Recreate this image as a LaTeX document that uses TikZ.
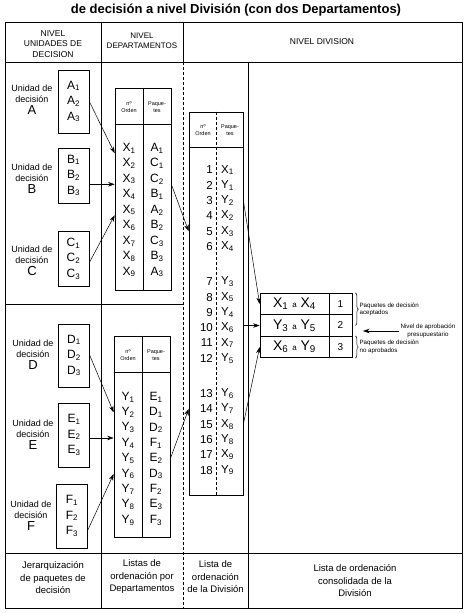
\documentclass[tikz,border=0pt]{standalone}
\usepackage{fontspec}
\setmainfont{Liberation Sans}
\usetikzlibrary{arrows.meta, decorations.pathreplacing}

\begin{document}
\begin{tikzpicture}[
  x=1pt, y=-1pt,
  frame/.style={line width=0.8pt},
  ubox/.style={draw, line width=0.7pt, minimum width=31pt, align=center, inner sep=1pt, font=\fontsize{12}{15.5}\selectfont},
  ulabel/.style={align=center, font=\fontsize{9}{11}\selectfont},
  tbl/.style={draw, line width=0.7pt, inner sep=0pt},
  thead/.style={align=center, font=\fontsize{5.5}{6.5}\selectfont},
  entry/.style={inner sep=0pt, font=\fontsize{12}{12}\selectfont},
  hdr/.style={align=center, font=\fontsize{8.5}{10.5}\selectfont},
  foot/.style={align=center, font=\fontsize{9.5}{12.5}\selectfont},
  res/.style={draw, line width=0.7pt, minimum height=21.5pt, inner sep=0pt, font=\fontsize{14}{14}\selectfont},
  note/.style={align=left, font=\fontsize{6.2}{7.5}\selectfont, inner sep=1pt},
  brace/.style={decorate, decoration={brace, amplitude=3pt}, line width=0.5pt},
  arrow/.style={-{Stealth[length=6.5pt, width=4.5pt]}, line width=0.5pt}
]
\useasboundingbox (0,0) rectangle (465,613);

% Title
\node[font=\bfseries\fontsize{13}{15}\selectfont] (title) at (236,10) {de decisión a nivel División (con dos Departamentos)};

% Frame
\draw[frame] (5,22) rectangle (462,608);
\draw[frame] (5,62) -- (462,62);
\draw[frame] (5,553) -- (462,553);
\draw[frame] (5,304) -- (183,304);
\draw[frame] (101,22) -- (101,608);
\draw[frame] (183,22) -- (183,62);
\draw[frame, densely dashed] (183,62) -- (183,608);
\draw[frame] (248,62) -- (248,608);

% Headers
\node[hdr] (h1) at (53,44) {NIVEL\\UNIDADES DE\\DECISION};
\node[hdr, font=\fontsize{8}{10}\selectfont] (h2) at (142,41) {NIVEL\\DEPARTAMENTOS};
\node[hdr] (h3) at (322,42) {NIVEL DIVISION};

% Decision units
\node[ulabel] (la) at (32,100) {Unidad de\\decisión\\[1pt]\fontsize{13}{13}\selectfont A};
\node[ulabel] (lb) at (32,179) {Unidad de\\decisión\\[1pt]\fontsize{13}{13}\selectfont B};
\node[ulabel] (lc) at (32,261) {Unidad de\\decisión\\[1pt]\fontsize{13}{13}\selectfont C};
\node[ulabel] (ld) at (33,355) {Unidad de\\decisión\\[1pt]\fontsize{13}{13}\selectfont D};
\node[ulabel] (le) at (33,435) {Unidad de\\decisión\\[1pt]\fontsize{13}{13}\selectfont E};
\node[ulabel] (lf) at (31,516) {Unidad de\\decisión\\[1pt]\fontsize{13}{13}\selectfont F};

\node[ubox, minimum height=63pt] (ua) at (73.5,101.5) {A\textsubscript{1}\\A\textsubscript{2}\\A\textsubscript{3}};
\node[ubox, minimum height=55pt] (ub) at (73.5,175.5) {B\textsubscript{1}\\B\textsubscript{2}\\B\textsubscript{3}};
\node[ubox, minimum height=55pt] (uc) at (73.5,258.5) {C\textsubscript{1}\\C\textsubscript{2}\\C\textsubscript{3}};
\node[ubox, minimum height=63pt] (ud) at (74,355.5) {D\textsubscript{1}\\D\textsubscript{2}\\D\textsubscript{3}};
\node[ubox, minimum height=64pt] (ue) at (74,435) {E\textsubscript{1}\\E\textsubscript{2}\\E\textsubscript{3}};
\node[ubox, minimum height=64pt] (uf) at (72,516) {F\textsubscript{1}\\F\textsubscript{2}\\F\textsubscript{3}};

% Department lists
\node[tbl, minimum width=56pt, minimum height=202pt] (dsup) at (143,189) {};
\draw[line width=0.7pt] ([yshift=-37pt]dsup.north west) -- ([yshift=-37pt]dsup.north east);
\draw[line width=0.7pt] (dsup.north) -- (dsup.south);
\node[thead] (dsupo) at (129,107) {nº\\Orden};
\node[thead] (dsupp) at (157,107) {Paque-\\tes};
\foreach \p/\s [count=\i] in {A/1,C/1,C/2,B/1,A/2,B/2,C/3,B/3,A/3} {
  \node[entry] (xo\i) at (129,{148+15.5*(\i-1)}) {X\textsubscript{\i}};
  \node[entry] (xp\i) at (157,{148+15.5*(\i-1)}) {\p\textsubscript{\s}};
}

\node[tbl, minimum width=56pt, minimum height=201pt] (dsinf) at (142,436.5) {};
\draw[line width=0.7pt] ([yshift=-37pt]dsinf.north west) -- ([yshift=-37pt]dsinf.north east);
\draw[line width=0.7pt] (dsinf.north) -- (dsinf.south);
\node[thead] (dinfo) at (128,355) {nº\\Orden};
\node[thead] (dinfp) at (156,355) {Paque-\\tes};
\foreach \p/\s [count=\i] in {E/1,D/1,D/2,F/1,E/2,D/3,F/2,E/3,F/3} {
  \node[entry] (yo\i) at (128,{397+15.4*(\i-1)}) {Y\textsubscript{\i}};
  \node[entry] (yp\i) at (156,{397+15.4*(\i-1)}) {\p\textsubscript{\s}};
}

% Division list
\node[tbl, minimum width=54pt, minimum height=383pt] (dlist) at (216,303.5) {};
\draw[line width=0.7pt] ([yshift=-36pt]dlist.north west) -- ([yshift=-36pt]dlist.north east);
\draw[line width=0.6pt, densely dashed] (dlist.north) -- (dlist.south);
\node[thead] (dlisto) at (203,130) {nº\\Orden};
\node[thead] (dlistp) at (230,130) {Paque-\\tes};
\foreach \p/\s [count=\i] in {X/1,Y/1,Y/2,X/2,X/3,X/4,Y/3,X/5,Y/4,X/6,X/7,Y/5,Y/6,Y/7,X/8,Y/8,X/9,Y/9} {
  \node[entry, anchor=east, font=\fontsize{11.5}{12}\selectfont] (dn\i) at (213,{170+15.3*(\i-1)+20*floor((\i-1)/6)}) {\i};
  \node[entry, anchor=west, font=\fontsize{11.5}{12}\selectfont] (dp\i) at (221,{170+15.3*(\i-1)+20*floor((\i-1)/6)}) {\p\textsubscript{\s}};
}

% Consolidated result
\node[res, minimum width=69pt] (ra1) at (294.5,304) {X\textsubscript{1} {\fontsize{8}{8}\selectfont a} X\textsubscript{4}};
\node[res, minimum width=69pt] (ra2) at (294.5,325.5) {Y\textsubscript{3} {\fontsize{8}{8}\selectfont a} Y\textsubscript{5}};
\node[res, minimum width=69pt] (ra3) at (294.5,347) {X\textsubscript{6} {\fontsize{8}{8}\selectfont a} Y\textsubscript{9}};
\node[res, minimum width=23pt, font=\fontsize{10}{10}\selectfont] (rn1) at (340.5,304) {1};
\node[res, minimum width=23pt, font=\fontsize{10}{10}\selectfont] (rn2) at (340.5,325.5) {2};
\node[res, minimum width=23pt, font=\fontsize{10}{10}\selectfont] (rn3) at (340.5,347) {3};

\draw[brace] ([xshift=3pt]rn1.north east) -- ([xshift=3pt]rn2.east)
  node[note, midway, right=3pt] (acept) {Paquetes de decisión\\aceptados};
\draw[brace] ([xshift=3pt]rn3.north east) -- ([xshift=3pt]rn3.south east)
  node[note, midway, right=3pt] (noapr) {Paquetes de decisión\\no aprobados};
\node[note, align=center] (nivel) at (428,331) {Nivel de aprobación\\presupuestario};
\coordinate (nivtip) at (363,331);

% Arrows
\draw[arrow] (ua.east) -- (dsup.west |- xo1.south);
\draw[arrow] (ub.east |- xo3.south) -- (dsup.west |- xo3.south);
\draw[arrow] ([yshift=-4pt]uc.east) -- (dsup.west |- xo5.south);
\draw[arrow] (ud.east) -- (dsinf.west |- yo2);
\draw[arrow] (ue.east |- yo4.north) -- (dsinf.west |- yo4.north);
\draw[arrow] ([yshift=-14pt]uf.east) -- (dsinf.west |- yo6);
\draw[arrow] (dsup.east |- xp3.south) -- (dlist.west |- dn5);
\draw[arrow] (dsinf.east |- yp5) -- (dlist.west |- dn14);
\draw[arrow] (dlist.east |- dp3) -- (ra1.west);
\draw[arrow] (dlist.east |- ra2.west) -- (ra2.west);
\draw[arrow] (dlist.east |- dp15) -- (ra3.west);
\draw[arrow] (nivel.west) -- (nivtip);

% Footers
\node[foot] (f1) at (53,578) {Jerarquización\\de paquetes de\\decisión};
\node[foot] (f2) at (142,577) {Listas de\\ordenación por\\Departamentos};
\node[foot] (f3) at (215.5,577) {Lista de\\ordenación\\de la División};
\node[foot] (f4) at (355,581) {Lista de ordenación\\consolidada de la\\División};

\end{tikzpicture}
\end{document}
